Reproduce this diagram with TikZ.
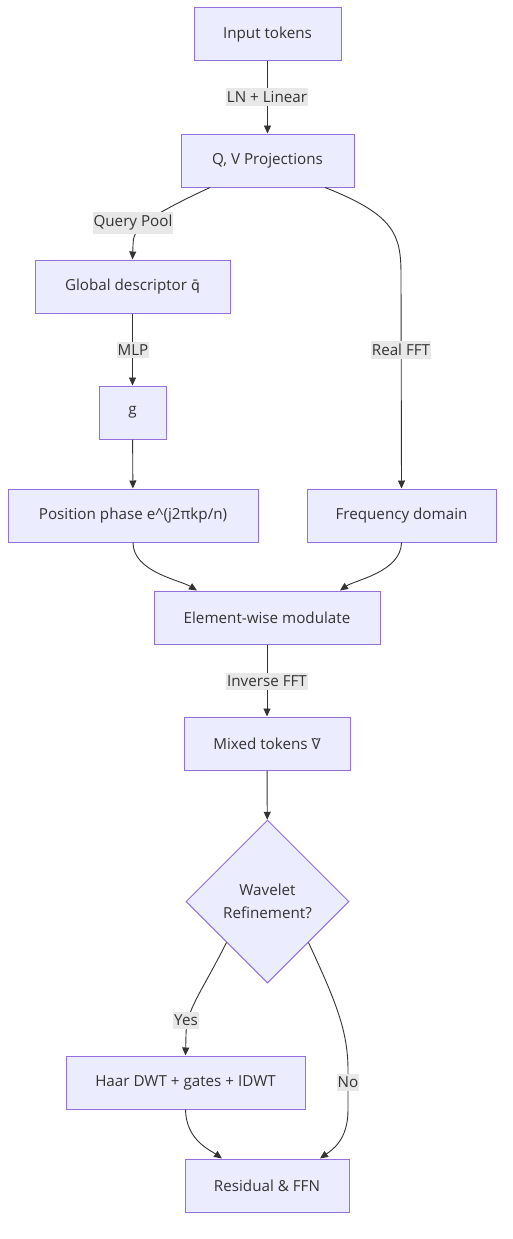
\documentclass[tikz,border=0pt]{standalone}
\usepackage{fontspec}
\setmainfont{Open Sans}
\newfontfamily\djv{DejaVu Sans}
\usetikzlibrary{arrows.meta,shapes.geometric,calc}
\definecolor{nodefill}{HTML}{ECECFF}
\definecolor{nodedraw}{HTML}{9370DB}
\definecolor{edgecol}{HTML}{333333}
\definecolor{lblbg}{HTML}{E8E8E8}
\begin{document}
\begin{tikzpicture}[x=1pt,y=-1pt,
  font=\fontsize{15.2pt}{18pt}\selectfont,
  box/.style={draw=nodedraw,fill=nodefill,line width=1pt,minimum height=53pt,inner sep=0pt,text=edgecol},
  dec/.style={draw=nodedraw,fill=nodefill,line width=1pt,diamond,aspect=1,minimum width=163pt,minimum height=163pt,inner sep=0pt,text=edgecol,align=center},
  lbl/.style={fill=lblbg,inner xsep=1pt,inner ysep=3pt,text=edgecol},
  conn/.style={draw=edgecol,line width=0.9pt,-{Stealth[length=8pt,width=7pt,inset=0pt]}}]
\useasboundingbox (0,0) rectangle (512,1239);
\fill[white] (0,0) rectangle (512,1239);
\node[box,minimum width=147pt] (inp) at (267.5,34.5) {Input tokens};
\node[box,minimum width=173pt] (qv) at (267.5,160.5) {Q, V Projections};
\node[box,minimum width=195pt] (glob) at (132.5,286.5) {Global descriptor {\djv\fontsize{14pt}{17pt}\selectfont q̄}};
\node[box,minimum width=67pt] (g) at (132.5,412.5) {g};
\node[box,minimum width=250pt] (pos) at (133,515.5) {Position phase e\textasciicircum(j2πkp/n)};
\node[box,minimum width=189pt] (freq) at (401.5,515.5) {Frequency domain};
\node[box,minimum width=226pt] (elem) at (267,617.5) {Element-wise modulate};
\node[box,minimum width=166pt] (mix) at (267,743.5) {Mixed tokens \~{V}};
\node[dec] (dia) at (267.5,901.5) {Wavelet\\[5pt]Refinement?};
\node[box,minimum width=239pt] (haar) at (185.5,1082.5) {Haar DWT + gates + IDWT};
\node[box,minimum width=164pt] (res) at (267,1185.5) {Residual \& FFN};
% edges
\draw[conn] (inp) -- (qv);
\node[lbl] (l1) at (267,97) {LN + Linear};
\draw[conn] ($(qv.south)+(-57.5,0)$) .. controls (140,220) and (133,230) .. (133,245) -- (glob.north);
\node[lbl] (l2) at (133,223) {Query Pool};
\draw[conn] ($(qv.south)+(57.5,0)$) .. controls (395,215) and (401,235) .. (401,275) -- (freq.north);
\node[lbl] (l3) at (401,350) {Real FFT};
\draw[conn] (glob) -- (g);
\node[lbl] (l4) at (133,350) {MLP};
\draw[conn] (g) -- (pos);
\draw[conn] (pos.south) .. controls (133,572) and (180,580) .. ($(elem.north)+(-70,0)$);
\draw[conn] (freq.south) .. controls (401,572) and (355,580) .. ($(elem.north)+(73,0)$);
\draw[conn] (elem) -- (mix);
\node[lbl] (l5) at (267,681) {Inverse FFT};
\draw[conn] (mix) -- (dia);
\draw[conn] (dia.-135) .. controls (200,995) and (186,1010) .. (186,1035) -- (haar.north);
\node[lbl] (l6) at (186,1020) {Yes};
\draw[conn] (dia.-45) .. controls (335,1000) and (348,1030) .. (348,1070) -- (348,1110) .. controls (348,1140) and (332,1150) .. ($(res.north)+(53,0)$);
\node[lbl] (l7) at (348,1082) {No};
\draw[conn] (haar.south) .. controls (186,1140) and (210,1150) .. ($(res.north)+(-45,0)$);
\end{tikzpicture}
\end{document}
